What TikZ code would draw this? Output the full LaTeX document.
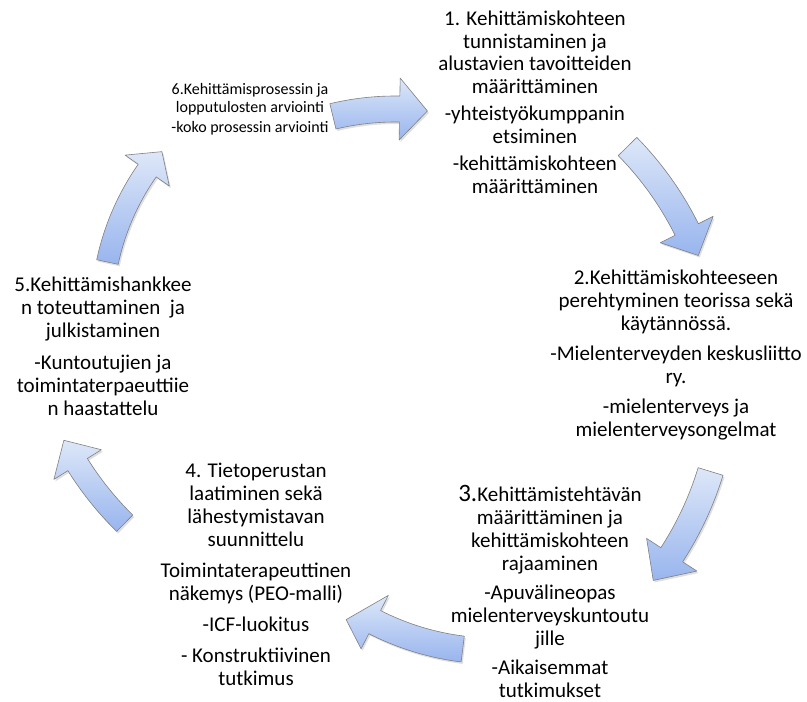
\documentclass[tikz,border=0pt]{standalone}
\usepackage{fontspec}
\setmainfont{Carlito}
\usetikzlibrary{calc,shadows}
\definecolor{arrowtop}{HTML}{DDE7F8}
\definecolor{arrowbot}{HTML}{98B5EE}

\begin{document}
\begin{tikzpicture}[x=1pt,y=-1pt,
  stage/.style={align=center,inner sep=0pt,anchor=base,font=\fontsize{21}{23}\selectfont},
  smallstage/.style={stage,font=\fontsize{16}{18}\selectfont},
  cyclearrow/.style={draw=black!50,line width=0.6pt,line join=round,
    top color=arrowtop,bottom color=arrowbot,
    drop shadow={opacity=0.25,shadow xshift=1.5pt,shadow yshift=-2pt}}]
  \useasboundingbox (0,0) rectangle (807,702);

  % stages (placed at the baseline of their last line)
  \node[stage,font=\fontsize{21}{22.5}\selectfont] (s1) at (535,193) {1. Kehittämiskohteen\\tunnistaminen ja\\alustavien tavoitteiden\\määrittäminen\\[5pt]-yhteistyökumppanin\\etsiminen\\[5pt]-kehittämiskohteen\\määrittäminen};
  \node[stage] (s2) at (676,436) {2.Kehittämiskohteeseen\\perehtyminen teorissa sekä\\käytännössä.\\[7pt]-Mielenterveyden keskusliitto\\ry.\\[7pt]-mielenterveys ja\\mielenterveysongelmat};
  \node[stage] (s3) at (550,697) {{\fontsize{25}{23}\selectfont 3.}Kehittämistehtävän\\määrittäminen ja\\kehittämiskohteen\\rajaaminen\\[6pt]-Apuvälineopas\\mielenterveyskuntoutu\\jille\\[6pt]-Aikaisemmat\\tutkimukset};
  \node[stage] (s4) at (256,685) {4. Tietoperustan\\laatiminen sekä\\lähestymistavan\\suunnittelu\\[8pt]Toimintaterapeuttinen\\näkemys (PEO-malli)\\[8pt]-ICF-luokitus\\[8pt]- Konstruktiivinen\\tutkimus};
  \node[stage] (s5) at (103,415) {5.Kehittämishankkee\\n toteuttaminen \ ja\\julkistaminen\\[9pt]-Kuntoutujien ja\\toimintaterpaeuttiie\\n haastattelu};
  \node[smallstage] (s6) at (250,132) {6.Kehittämisprosessin ja\\lopputulosten arviointi\\[2pt]-koko prosessin arviointi};

  % arrows: centre/radius/tail/head base/tip/shaft/head/tip shift
  \foreach \cx/\cy/\r/\a/\b/\t/\w/\h/\o in {
      395/375/266/-103.5/-89/-83/13/31/0,
      395/375/326/-44.5/-26.5/-21.5/13/29.5/0,
      395/375/330/17/33/38.5/13/30/0,
      495/386/265/97/117/122.5/13/30/12,
      349/295/320/134.5/148/153/11.5/28/0,
      352/314/250/-168/-145/-139.5/11/27/0}
    \path[cyclearrow] ($(\cx,\cy)+(\a:\r+\w)$) arc[start angle=\a,end angle=\b,radius=\r+\w]
      -- ($(\cx,\cy)+(\b:\r+\h)$) -- ($(\cx,\cy)+(\t:\r+\o)$) -- ($(\cx,\cy)+(\b:\r-\h)$)
      -- ($(\cx,\cy)+(\b:\r-\w)$) arc[start angle=\b,end angle=\a,radius=\r-\w] -- cycle;
\end{tikzpicture}
\end{document}
